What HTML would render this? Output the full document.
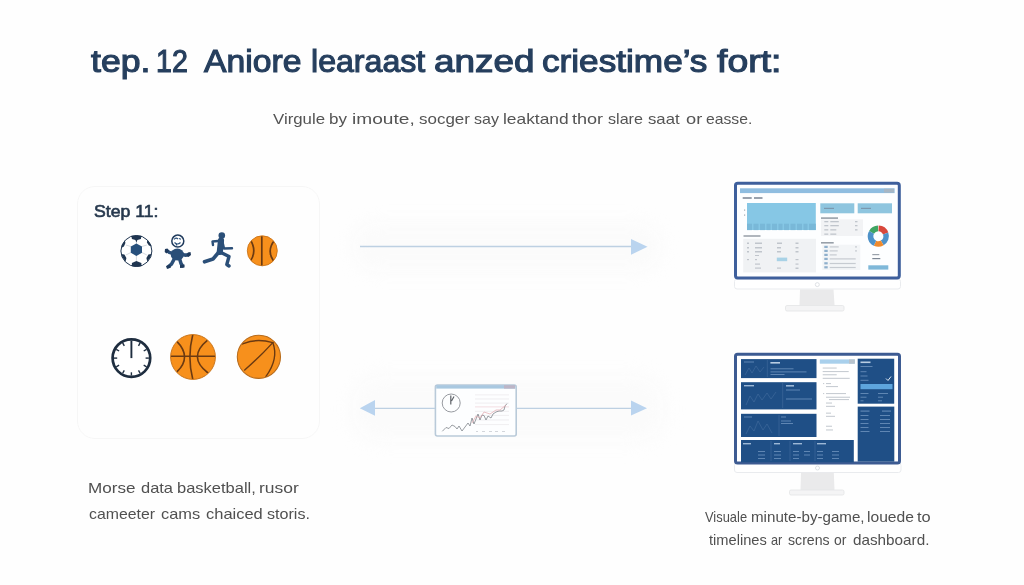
<!DOCTYPE html>
<html><head><meta charset="utf-8">
<style>
html,body{margin:0;padding:0;}
body{width:1024px;height:585px;position:relative;overflow:hidden;background:#fefefe;font-family:"Liberation Sans",sans-serif;}
.a{position:absolute;white-space:nowrap;}
.t{transform-origin:0 0;}
.tw{top:45px;color:#263f5e;-webkit-text-stroke:1.1px #263f5e;font-size:31px;line-height:34px;transform-origin:0 0;}
.sw{top:109.5px;color:#545454;font-size:15px;line-height:18px;transform-origin:0 0;}
.cw{color:#505050;line-height:18px;transform-origin:0 0;}
</style></head><body><div id="wrap" style="position:absolute;left:0;top:0;width:1024px;height:585px;filter:blur(0.45px);">

<div class="a tw" style="left:91.0px;transform:scaleX(1.148);">tep.</div>
<div class="a tw" style="left:156.16px;transform:scaleX(0.9219);">12</div>
<div class="a tw" style="left:203.79px;transform:scaleX(1.0867);">Aniore</div>
<div class="a tw" style="left:311.46px;transform:scaleX(1.0364);">learaast</div>
<div class="a tw" style="left:433.81px;transform:scaleX(1.189);">anzed</div>
<div class="a tw" style="left:541.87px;transform:scaleX(1.1345);">criestime’s</div>
<div class="a tw" style="left:717.0px;transform:scaleX(1.2059);">fort:</div>
<div class="a sw" style="left:272.9px;transform:scaleX(1.1217);">Virgule</div>
<div class="a sw" style="left:328.87px;transform:scaleX(1.1333);">by</div>
<div class="a sw" style="left:351.53px;transform:scaleX(1.2745);">imoute,</div>
<div class="a sw" style="left:418.6px;transform:scaleX(1.1311);">socger</div>
<div class="a sw" style="left:474.2px;transform:scaleX(1.0696);">say</div>
<div class="a sw" style="left:503.34px;transform:scaleX(1.1582);">leaktand</div>
<div class="a sw" style="left:571.9px;transform:scaleX(1.2038);">thor</div>
<div class="a sw" style="left:607.8px;transform:scaleX(1.075);">slare</div>
<div class="a sw" style="left:647.9px;transform:scaleX(1.1138);">saat</div>
<div class="a sw" style="left:686.0px;transform:scaleX(1.2154);">or</div>
<div class="a sw" style="left:706.4px;transform:scaleX(1.0488);">easse.</div>
<!-- faint shadows -->
<div class="a" style="left:352px;top:222px;width:310px;height:50px;border-radius:24px;background:#fbfbfb;filter:blur(8px);"></div>
<div class="a" style="left:352px;top:376px;width:312px;height:66px;border-radius:28px;background:#fbfbfb;filter:blur(9px);"></div>
<!-- card -->
<div class="a" style="left:77px;top:186px;width:241px;height:251px;border:1px solid #f6f6f6;border-radius:18px;"></div>
<div id="step" class="a t" style="transform:scaleX(1.069);left:94px;top:202px;color:#26384d;font-weight:normal;-webkit-text-stroke:0.6px #26384d;font-size:16.5px;line-height:19px;">Step 11:</div>


<div class="a cw" style="left:88.36px;top:479px;font-size:15px;transform:scaleX(1.1375);">Morse</div>
<div class="a cw" style="left:140.7px;top:479px;font-size:15px;transform:scaleX(1.0966);">data</div>
<div class="a cw" style="left:176.5px;top:479px;font-size:15px;transform:scaleX(1.0986);">basketball,</div>
<div class="a cw" style="left:259.44px;top:479px;font-size:15px;transform:scaleX(1.1636);">rusor</div>
<div class="a cw" style="left:88.5px;top:505px;font-size:15px;transform:scaleX(1.0556);">cameeter</div>
<div class="a cw" style="left:161.2px;top:505px;font-size:15px;transform:scaleX(1.0943);">cams</div>
<div class="a cw" style="left:205.5px;top:505px;font-size:15px;transform:scaleX(1.098);">chaiced</div>
<div class="a cw" style="left:267.1px;top:505px;font-size:15px;transform:scaleX(1.0744);">storis.</div>
<div class="a cw" style="left:704.7px;top:507.8px;font-size:14.5px;transform:scaleX(0.8894);">Visuale</div>
<div class="a cw" style="left:750.56px;top:507.8px;font-size:14.5px;transform:scaleX(1.0439);">minute-by-game,</div>
<div class="a cw" style="left:867.22px;top:507.8px;font-size:14.5px;transform:scaleX(1.0786);">louede</div>
<div class="a cw" style="left:917.0px;top:507.8px;font-size:14.5px;transform:scaleX(1.1333);">to</div>
<div class="a cw" style="left:708.8px;top:531px;font-size:14.5px;transform:scaleX(1.0105);">timelines</div>
<div class="a cw" style="left:770.9px;top:531px;font-size:14.5px;transform:scaleX(0.8769);">ar</div>
<div class="a cw" style="left:787.9px;top:531px;font-size:14.5px;transform:scaleX(0.9744);">screns</div>
<div class="a cw" style="left:834.3px;top:531px;font-size:14.5px;transform:scaleX(0.9615);">or</div>
<div class="a cw" style="left:852.5px;top:531px;font-size:14.5px;transform:scaleX(1.0528);">dashboard.</div>
<svg class="a" style="left:0;top:0" width="1024" height="585" viewBox="0 0 1024 585">
  <defs><clipPath id="c15"><circle r="14.6"/></clipPath><clipPath id="c22"><circle r="22"/></clipPath><clipPath id="c21"><circle r="21.2"/></clipPath></defs>

  <!-- soccer ball -->
  <g transform="translate(136.4,251)">
    <circle r="15.5" fill="#fff" stroke="#1f3550" stroke-width="1"/>
    <g stroke="#c4cad2" stroke-width="0.7" fill="none">
      <line x1="0" y1="-7" x2="0" y2="-12"/><line x1="5.5" y1="-4.5" x2="10.5" y2="-6"/><line x1="5.5" y1="1.5" x2="10.5" y2="4"/>
      <line x1="0" y1="4" x2="0" y2="10"/><line x1="-5.5" y1="1.5" x2="-10.5" y2="4"/><line x1="-5.5" y1="-4.5" x2="-10.5" y2="-6"/>
    </g>
    <polygon points="0,-7.6 5.6,-4.4 5.6,1.8 0,5 -5.6,1.8 -5.6,-4.4" fill="#27507c"/>
    <path d="M-5,-15.3 Q0,-16.3 5,-15.3 L4.5,-12 L1,-11 L0,-8.5 L-1,-11 L-4.5,-12 Z" fill="#1f3550"/>
    <path d="M-4.5,15.3 Q0,16.3 5,15.3 L5,12 L0,10 L-4.5,12 Z" fill="#1f3550"/>
    <path d="M-11.5,-10.5 Q-14.5,-7 -15.2,-3 L-12.5,-4.5 L-11,-8 Z" fill="#1f3550"/>
    <path d="M-15.3,3 Q-14,7 -10.8,10.5 L-10,7 L-12,3.5 Z" fill="#1f3550"/>
    <path d="M11,-11 Q14.5,-7.5 15.2,-4.5 L12.5,-5.5 L10.5,-8.5 Z" fill="#1f3550"/>
    <path d="M15.3,3 Q14,7 10.8,10.5 L10,7 L12,3.5 Z" fill="#1f3550"/>
  </g>
  <!-- cartoon figure -->
  <g>
    <circle cx="177.8" cy="241.1" r="6" fill="#fff" stroke="#1f3a5c" stroke-width="1.5"/>
    <path d="M174,239.5 q2,-2.5 4,-0.5 M179,238.5 l2,0.8 M174.5,242.5 q3,3 6,0 M176,244 l1,1.5" stroke="#2b4f78" stroke-width="1.1" fill="none"/>
    <ellipse cx="177.3" cy="254.6" rx="6.6" ry="6" fill="#2b4f78"/>
    <g stroke="#2b4f78" stroke-width="3.5" stroke-linecap="round" fill="none">
      <path d="M172,253 Q169,253 167.5,251"/>
      <path d="M182.5,254 Q185,256 188,254.5"/>
      <path d="M174.5,258.5 L171.5,264 L168.5,266.5"/>
      <path d="M179.5,258.5 L181,263.5 L182.5,266"/>
    </g>
    <path d="M165,249 L167.5,248.5 L169,251 L166.5,253.5 L164.7,252 Z" fill="#1f3a5c"/>
    <path d="M188,252.5 L190.5,252 L191,255 L188.5,257 L186.5,256 Z" fill="#1f3a5c"/>
    <path d="M166,266 L170,264.5 L171,267.5 L167,269 Z" fill="#1f3a5c"/>
    <path d="M180,265 L184.5,264.5 L184.5,267.5 L180,268 Z" fill="#1f3a5c"/>
  </g>
  <!-- runner -->
  <g>
    <circle cx="221.8" cy="235.5" r="3.3" fill="#2b4f78"/>
    <g stroke="#2b4f78" stroke-linecap="round" stroke-linejoin="round" fill="none">
      <path d="M221,240.5 L219.8,252" stroke-width="6.2"/>
      <path d="M218,241 L212.5,241.5 L213,245" stroke-width="2.4"/>
      <path d="M222.5,242 L224,248.5 L232,248.3" stroke-width="2.4"/>
      <path d="M218.5,252.5 L213,259 L204.5,261.8" stroke-width="3.6"/>
      <path d="M221,252.5 L229,256.5 L226.8,264.5 L229,266" stroke-width="3.4"/>
    </g>
  </g>
  <!-- basketball 1 -->
  <g transform="translate(262.3,250.8)">
    <circle r="15" fill="#f7901c" stroke="#c9741a" stroke-width="0.9"/>
    <g stroke="#6b3a12" stroke-width="1.7" fill="none" stroke-linecap="round" clip-path="url(#c15)">
      <line x1="-0.5" y1="-15" x2="-0.5" y2="15"/>
      <path d="M-12.4,-11.6 Q-4.6,0 -12.4,11.3"/>
      <path d="M12.2,-10.5 Q3.9,0 11.5,10.6"/>
    </g>
  </g>
  <!-- clock -->
  <g transform="translate(131.4,358.1)">
    <circle r="18.8" fill="#fff" stroke="#1e2d3f" stroke-width="2.7"/>
    <g stroke="#1e2d3f" stroke-width="1.4">
      <line x1="0" y1="-17.5" x2="0" y2="0" stroke-width="1.9"/><line x1="8.75" y1="-15.16" x2="7.10" y2="-12.30"/><line x1="15.16" y1="-8.75" x2="12.30" y2="-7.10"/><line x1="17.50" y1="-0.00" x2="14.20" y2="-0.00"/><line x1="15.16" y1="8.75" x2="12.30" y2="7.10"/><line x1="8.75" y1="15.16" x2="7.10" y2="12.30"/><line x1="0.00" y1="17.50" x2="0.00" y2="14.20"/><line x1="-8.75" y1="15.16" x2="-7.10" y2="12.30"/><line x1="-15.16" y1="8.75" x2="-12.30" y2="7.10"/><line x1="-17.50" y1="0.00" x2="-14.20" y2="0.00"/><line x1="-15.16" y1="-8.75" x2="-12.30" y2="-7.10"/><line x1="-8.75" y1="-15.16" x2="-7.10" y2="-12.30"/>
    </g>
  </g>
  <!-- basketball 2 -->
  <g transform="translate(193,357)">
    <circle r="22.4" fill="#f7901c" stroke="#c9741a" stroke-width="1"/>
    <g stroke="#6b3a12" stroke-width="1.6" fill="none" stroke-linecap="round" clip-path="url(#c22)">
      <line x1="-22.4" y1="-0.7" x2="22.4" y2="-0.7"/>
      <path d="M-0.2,-22.4 Q-6,0 -0.2,22.4"/>
      <path d="M-16.4,-15.9 Q-0.8,0 -15.9,14.6"/>
      <path d="M14.6,-16.8 Q-6,0 15,16"/>
    </g>
  </g>
  <!-- basketball 3 -->
  <g transform="translate(258.9,356.8)">
    <circle r="21.6" fill="#f7901c" stroke="#b86c1c" stroke-width="1.1"/>
    <g stroke="#6b3a12" stroke-width="1.4" fill="none" stroke-linecap="round" clip-path="url(#c21)">
      <path d="M-16.4,-12.9 Q-2.7,-19 13.9,-14.2"/>
      <path d="M-14.2,13.3 Q2,-1 13.9,-14.2"/>
      <path d="M13.9,-14.2 Q20,2 7.1,19.6"/>
    </g>
  </g>

  <!-- monitor 1 -->
  <g>
    <rect x="734.5" y="279" width="166" height="10" rx="2.5" fill="#fff" stroke="#e9ebee" stroke-width="1"/>
    <circle cx="817.3" cy="284.6" r="2" fill="none" stroke="#d6d9de" stroke-width="0.8"/>
    <path d="M800,289.5 L833.5,289.5 L834.5,305.5 L799.5,305.5 Z" fill="#eaeaeb"/>
    <rect x="785.5" y="305.5" width="58.5" height="5.5" rx="1.5" fill="#f4f4f5" stroke="#e3e4e6" stroke-width="0.8"/>
    <rect x="735.5" y="183.2" width="163.8" height="94.7" rx="2.2" fill="#fdfeff" stroke="#3e5f9c" stroke-width="3"/>
    <rect x="740" y="188.3" width="154.6" height="4.8" fill="#8fbde0"/>
    <rect x="884" y="188.8" width="10" height="3.8" fill="#a7b6c4"/>
    <rect x="742.7" y="197" width="9" height="2" fill="#9aa2ad"/>
    <rect x="754" y="197" width="8.5" height="2" fill="#9aa2ad"/>
    <rect x="747" y="203" width="68.8" height="27" fill="#86c7e5"/>
    <g fill="#79b8d8">
      <rect x="747" y="223.7" width="5" height="6.4"/><rect x="753.5" y="223.7" width="5" height="6.4"/>
      <rect x="760" y="223.7" width="5" height="6.4"/><rect x="766.5" y="223.7" width="4" height="6.4"/>
      <rect x="772" y="223.7" width="5" height="6.4"/><rect x="778.5" y="223.7" width="4" height="6.4"/>
      <rect x="784" y="223.7" width="5" height="6.4"/><rect x="790.5" y="223.7" width="5" height="6.4"/>
      <rect x="797" y="223.7" width="5" height="6.4"/><rect x="803.5" y="223.7" width="4" height="6.4"/>
      <rect x="809" y="223.7" width="6.8" height="6.4"/>
    </g>
    <rect x="744" y="209.5" width="1.2" height="1.2" fill="#a0a8b0"/>
    <rect x="744" y="214.5" width="1.2" height="1.2" fill="#a0a8b0"/>
    <rect x="743.5" y="235" width="17" height="2" fill="#b0b6bd"/>
    <rect x="743.2" y="238.8" width="72.8" height="33.6" fill="#f0f2f4"/>
    <g fill="#c0c5cc">
      <rect x="747" y="242.5" width="2" height="1.5"/><rect x="755" y="242.5" width="7" height="1.5"/><rect x="777" y="242.5" width="5" height="1.5"/><rect x="795.5" y="242.5" width="3" height="1.5"/>
      <rect x="747" y="247" width="2" height="1.5"/><rect x="755" y="247" width="7" height="1.5"/><rect x="777" y="247" width="4" height="1.5"/><rect x="795.5" y="247" width="3" height="1.5"/>
      <rect x="747" y="251" width="2" height="1.5"/><rect x="755" y="251" width="7" height="1.5"/><rect x="777" y="251" width="4" height="1.5"/><rect x="795.5" y="251" width="3" height="1.5"/>
      <rect x="755" y="255" width="4" height="1"/>
      <rect x="747" y="259" width="2" height="1.2"/><rect x="755" y="259" width="2" height="1.2"/><rect x="795.5" y="259" width="3" height="1.2"/>
      <rect x="755" y="263.5" width="5" height="1.2"/><rect x="795.5" y="263.5" width="3" height="1.2"/>
      <rect x="755" y="267.5" width="6" height="1.2"/><rect x="777" y="267.5" width="4" height="1.2"/><rect x="795.5" y="267.5" width="3" height="1.5"/>
    </g>
    <rect x="776.8" y="257.6" width="10.4" height="3.6" fill="#a8d2e6"/>
    <rect x="820.3" y="203.3" width="34" height="10" fill="#8ec5df"/>
    <rect x="857.7" y="203.3" width="34.3" height="10" fill="#8ec5df"/>
    <rect x="824" y="207.8" width="10" height="1.2" fill="#7b98ae"/>
    <rect x="861" y="207.8" width="10" height="1.2" fill="#7b98ae"/>
    <rect x="821" y="217.3" width="17" height="1.6" fill="#98a0a9"/>
    <rect x="821" y="219.3" width="42" height="16.7" fill="#f2f3f5"/>
    <g fill="#c0c5cc">
      <rect x="824.3" y="221" width="4" height="1.3"/><rect x="830.3" y="221" width="8.5" height="1.3"/><rect x="855" y="221" width="2.5" height="1.3"/>
      <rect x="824.3" y="225" width="4" height="1.3"/><rect x="830.3" y="225" width="8.5" height="1.3"/><rect x="855" y="225" width="2.5" height="1.3"/>
      <rect x="824.3" y="229.2" width="4" height="1.3"/><rect x="830.3" y="229.2" width="6" height="1.3"/><rect x="855" y="229.2" width="2.5" height="1.3"/>
      <rect x="824.3" y="233.5" width="4" height="1.3"/><rect x="830.3" y="233.5" width="6" height="1.3"/>
    </g>
    <rect x="821" y="242" width="12.7" height="1.6" fill="#98a0a9"/>
    <rect x="822.3" y="244.7" width="38" height="25.3" fill="#f3f5f7"/>
    <g fill="#8fb0cc">
      <rect x="824.3" y="245.8" width="3.4" height="2.2"/><rect x="824.3" y="249.8" width="3.4" height="2.2"/>
      <rect x="824.3" y="253.8" width="3.4" height="2.2"/><rect x="824.3" y="257.8" width="3.4" height="2.2"/>
      <rect x="824.3" y="262.2" width="3.4" height="2.2"/><rect x="824.3" y="266.2" width="3.4" height="2.2"/>
    </g>
    <g fill="#c6cbd1">
      <rect x="829.7" y="246.3" width="9" height="1.2"/><rect x="855" y="246.3" width="2" height="1.2"/>
      <rect x="829.7" y="250.3" width="8" height="1.2"/><rect x="855" y="250.3" width="2" height="1.2"/>
      <rect x="829.7" y="254.3" width="7" height="1.2"/>
      <rect x="829.7" y="258.3" width="26" height="1.2"/>
      <rect x="829.7" y="262.9" width="26" height="1.2"/>
      <rect x="829.7" y="266.9" width="26" height="1.2"/>
    </g>
    <g fill="none" stroke-width="5.6" transform="translate(878.3,236.2)"><path d="M-6.75,-3.90 A7.8,7.8 0 0 1 -0.27,-7.80" stroke="#3fa563"/><path d="M0.27,-7.80 A7.8,7.8 0 0 1 7.33,-2.67" stroke="#d8483c"/><path d="M7.33,-2.67 A7.8,7.8 0 0 1 3.90,6.75" stroke="#4e92c9"/><path d="M3.90,6.75 A7.8,7.8 0 0 1 -3.30,7.07" stroke="#ef8a2c"/><path d="M-3.30,7.07 A7.8,7.8 0 0 1 -6.75,-3.90" stroke="#4e92c9"/></g>
    <rect x="872.3" y="254" width="7" height="1.2" fill="#9aa2ab"/>
    <rect x="872.3" y="258" width="8" height="1.2" fill="#7d8794"/>
    <rect x="868.3" y="265.3" width="20" height="4.3" fill="#7fb8d9"/>
  </g>

  <!-- monitor 2 -->
  <g>
    <rect x="734.5" y="463" width="166.5" height="9.5" rx="2.5" fill="#fff" stroke="#e9ebee" stroke-width="1"/>
    <circle cx="817.5" cy="468" r="2" fill="none" stroke="#d6d9de" stroke-width="0.8"/>
    <path d="M801,472.5 L833.8,472.5 L834.5,490 L800.5,490 Z" fill="#eaeaeb"/>
    <rect x="789.5" y="490" width="54.5" height="5" rx="1.5" fill="#f4f4f5" stroke="#e3e4e6" stroke-width="0.8"/>
    <rect x="735.5" y="354.2" width="164" height="108.8" rx="2" fill="#fff" stroke="#3d5b92" stroke-width="3"/>
    <g fill="#1f4f86">
      <rect x="741" y="359.1" width="75.5" height="19"/>
      <rect x="741" y="382.2" width="75.5" height="27.2"/>
      <rect x="741" y="413.8" width="75.5" height="23.2"/>
      <rect x="741" y="440" width="112.8" height="22.3"/>
      <rect x="857.7" y="358.7" width="36.5" height="45"/>
      <rect x="857.7" y="406.6" width="36.6" height="55"/>
    </g>
    <g stroke="#4a72a2" stroke-width="0.5" fill="none">
      <line x1="767.3" y1="360" x2="767.3" y2="377"/>
      <line x1="782.7" y1="383" x2="782.7" y2="408"/>
      <line x1="779" y1="415" x2="779" y2="436"/>
      <line x1="771" y1="441" x2="771" y2="461"/>
      <line x1="790" y1="441" x2="790" y2="461"/>
      <line x1="815" y1="441" x2="815" y2="461"/>
      <path d="M745,375 L749,368 L752,373 L756,366 L760,372 L764,367"/>
      <path d="M746,405 L750,396 L754,402 L758,394 L762,400 L767,393 L771,399 L776,392"/>
      <path d="M746,434 L750,426 L754,431 L758,421 L763,430 L767,424 L772,433"/>
    </g>
    <g fill="#5f86b3">
      <rect x="770.4" y="362" width="9.6" height="1.6" fill="#b9cde2"/>
      <rect x="770.5" y="368.3" width="23" height="1"/><rect x="770.5" y="371.4" width="36" height="1"/><rect x="770.5" y="374" width="14" height="1"/>
      <rect x="744" y="361.5" width="10" height="1"/>
      <rect x="744" y="385" width="10" height="1.4" fill="#9db8d6"/>
      <rect x="786" y="385" width="8" height="1.6" fill="#9db8d6"/>
      <rect x="786" y="389.5" width="14" height="1"/><rect x="786" y="398.5" width="26" height="1"/>
      <rect x="744" y="416.5" width="8" height="1"/><rect x="781" y="416.5" width="5" height="1"/>
      <rect x="781" y="420.5" width="10" height="1"/><rect x="781" y="423" width="12" height="1"/>
      <rect x="743" y="443" width="8" height="1.4" fill="#9db8d6"/><rect x="774" y="443" width="6" height="1.4" fill="#9db8d6"/><rect x="793" y="443" width="9" height="1.4" fill="#9db8d6"/><rect x="817" y="443" width="9" height="1.4" fill="#9db8d6"/>
      <rect x="758" y="451" width="7" height="1"/><rect x="758" y="454.5" width="7" height="1"/><rect x="758" y="458" width="7" height="1"/>
      <rect x="774" y="451" width="7" height="1"/><rect x="774" y="454.5" width="7" height="1"/><rect x="774" y="458" width="7" height="1"/>
      <rect x="793" y="451" width="6" height="1"/><rect x="793" y="454.5" width="6" height="1"/><rect x="793" y="458" width="6" height="1"/>
      <rect x="804" y="451" width="6" height="1"/><rect x="804" y="454.5" width="6" height="1"/>
      <rect x="817" y="451" width="6" height="1"/><rect x="817" y="454.5" width="6" height="1"/><rect x="817" y="458" width="6" height="1"/>
      <rect x="832" y="451" width="7" height="1"/><rect x="832" y="454.5" width="7" height="1"/><rect x="832" y="458" width="7" height="1"/>
    </g>
    <rect x="819.8" y="359.4" width="35" height="4.3" fill="#a9d0ec"/>
    <rect x="849" y="359.4" width="5.8" height="4.3" fill="#b9c3cc"/>
    <g fill="#c8cdd3">
      <rect x="822.7" y="367.5" width="14" height="1.1"/><rect x="822.7" y="371" width="26" height="1.1"/>
      <rect x="822.7" y="374.2" width="14" height="1.1"/><rect x="822.7" y="377.8" width="27" height="1.1"/>
      <rect x="823" y="383" width="1.2" height="1.1"/><rect x="826" y="383" width="5" height="1.1"/>
      <rect x="826" y="386" width="12" height="1.1"/>
      <rect x="823" y="393" width="1.2" height="1.1"/><rect x="826" y="393" width="20" height="1.1"/>
      <rect x="826" y="396.7" width="24" height="1.1"/><rect x="829" y="399" width="20" height="1.1"/>
      <rect x="826" y="402.5" width="6" height="1.1"/><rect x="826" y="405.8" width="9" height="1.1"/>
      <rect x="826" y="412.6" width="5" height="1.1"/><rect x="826" y="415.8" width="9" height="1.1"/>
      <rect x="826" y="425.7" width="6" height="1.1"/><rect x="826" y="429.4" width="7" height="1.1"/>
    </g>
    <g fill="#5f86b3">
      <rect x="860.5" y="361.5" width="10" height="1.6" fill="#b9cde2"/>
      <rect x="860.5" y="366" width="12" height="1"/>
      <rect x="860.5" y="371.2" width="6" height="1"/><rect x="860.5" y="375.5" width="7" height="1"/><rect x="860.5" y="379.8" width="8" height="1"/>
      <rect x="860.5" y="393" width="8" height="1"/><rect x="878" y="393" width="10" height="1"/>
      <rect x="860.5" y="396.7" width="6" height="1"/><rect x="878" y="396.7" width="5" height="1"/>
      <rect x="860.5" y="400.3" width="3" height="1"/><rect x="878" y="400.3" width="4" height="1"/>
      <rect x="860.5" y="410.5" width="9" height="1.2"/><rect x="882" y="410.5" width="9" height="1.2"/>
      <rect x="860.5" y="415" width="8" height="1"/><rect x="880" y="415" width="10" height="1"/>
      <rect x="860.5" y="419" width="8" height="1"/><rect x="880" y="419" width="10" height="1"/>
      <rect x="860.5" y="423" width="8" height="1"/><rect x="880" y="423" width="10" height="1"/>
      <rect x="860.5" y="427" width="8" height="1"/><rect x="880" y="427" width="10" height="1"/>
      <rect x="860.5" y="431" width="9" height="1"/><rect x="880" y="431" width="10" height="1"/>
    </g>
    <rect x="860.5" y="384" width="32" height="5.2" fill="#5ea5dd"/>
    <path d="M886,378.5 L888,380.5 L891,376.5" stroke="#dfe9f4" stroke-width="1" fill="none"/>
  </g>

  <!-- chart window -->
  <g>
    <rect x="435.4" y="385" width="80.8" height="51" rx="2" fill="#fdfeff" stroke="#b9cad9" stroke-width="1.6"/>
    <rect x="436.2" y="385.2" width="79.2" height="3.4" fill="#a9c8e0"/>
    <rect x="504" y="385.2" width="11" height="3.4" fill="#bdb5c6"/>
    <circle cx="451.2" cy="403" r="9" fill="none" stroke="#8c9096" stroke-width="0.9"/>
    <path d="M450.8,395.5 L450.8,404.5 M451.5,401 L454,396.5" stroke="#5d6268" stroke-width="1.2" fill="none"/>
    <g stroke="#e6e3e6" stroke-width="0.6">
      <line x1="475" y1="394.9" x2="509" y2="394.9"/>
      <line x1="475" y1="399" x2="509" y2="399"/>
      <line x1="475" y1="403.1" x2="509" y2="403.1"/>
      <line x1="475" y1="406.9" x2="509" y2="406.9" stroke="#ecc8cc"/>
      <line x1="475" y1="411.3" x2="509" y2="411.3"/>
      <line x1="475" y1="415.4" x2="509" y2="415.4"/>
      <line x1="475" y1="420" x2="509" y2="420"/>
      <line x1="475" y1="424.6" x2="509" y2="424.6"/>
    </g>
    <path d="M442.3,431.3 L446,427.5 L449,428.5 L452,425 L455,426.5 L457,429 L459,426 L462,431 L465,427 L468,423 L470,426 L472,418 L474,424 L476,419 L478,414 L480,420 L482,415 L484,415.5 L486,420 L488,416 L491,418 L493,414 L496,412 L499,411 L502,411 L504,410 L505,406 L507,403.6" stroke="#80858c" stroke-width="0.8" fill="none"/>
    <path d="M472,423 L476,416 L480,418 L484,412 L490,414 L496,410 L500,410 L506,405" stroke="#e3a8ae" stroke-width="0.7" fill="none"/>
    <g fill="#c8ccd2">
      <rect x="476" y="431" width="2" height="0.8"/><rect x="482" y="431" width="3" height="0.8"/>
      <rect x="489" y="431" width="3" height="0.8"/><rect x="495" y="431" width="3" height="0.8"/><rect x="502" y="431" width="3" height="0.8"/>
    </g>
  </g>
  <!-- arrows -->
  <line x1="360" y1="246.5" x2="632" y2="246.5" stroke="#bdd0e2" stroke-width="1.3"/>
  <polygon points="631,239 647.5,246.8 631,254.7" fill="#bad4ef"/>
  <line x1="374" y1="408.4" x2="435" y2="408.4" stroke="#bdd0e2" stroke-width="1.3"/>
  <polygon points="375,400 359.8,408.2 375,415.8" fill="#bad4ef"/>
  <line x1="517" y1="408.4" x2="632" y2="408.4" stroke="#bdd0e2" stroke-width="1.3"/>
  <polygon points="631,400.6 647,408.2 631,415.5" fill="#bad4ef"/>
</svg>
</div></body></html>
